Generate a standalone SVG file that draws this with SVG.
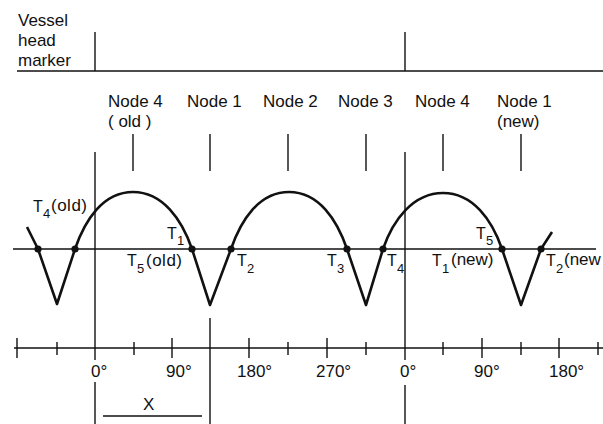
<svg xmlns="http://www.w3.org/2000/svg" width="603" height="424" viewBox="0 0 603 424">
<style>
text{font-family:"Liberation Sans",Arial,sans-serif;font-size:17px;fill:#111}
.t{font-size:16px}
.sub{font-size:13px}
.ln{stroke:#111;stroke-width:1.4;fill:none}
.crv{stroke:#111;stroke-width:2.6;fill:none;stroke-linejoin:round}
.dot{fill:#111}
</style>
<rect width="603" height="424" fill="#fff"/>
<g id="vessel-marker">
<text x="18" y="26">Vessel</text>
<text x="18" y="46">head</text>
<text x="18" y="66">marker</text>
<line class="ln" x1="17" y1="71" x2="603" y2="71"/>
<line class="ln" x1="95" y1="32" x2="95" y2="71"/>
<line class="ln" x1="405" y1="32" x2="405" y2="71"/>
</g>
<g id="node4-old"><text x="108" y="107">Node 4</text><text x="108" y="127">( old )</text><line class="ln" x1="133" y1="134" x2="133" y2="171"/></g>
<g id="node1"><text x="187" y="107">Node 1</text><line class="ln" x1="210" y1="134" x2="210" y2="171"/></g>
<g id="node2"><text x="263" y="107">Node 2</text><line class="ln" x1="288" y1="134" x2="288" y2="171"/></g>
<g id="node3"><text x="338" y="107">Node 3</text><line class="ln" x1="366" y1="134" x2="366" y2="171"/></g>
<g id="node4"><text x="415" y="107">Node 4</text><line class="ln" x1="443" y1="134" x2="443" y2="171"/></g>
<g id="node1-new"><text x="497" y="107">Node 1</text><text x="497" y="127">(new)</text><line class="ln" x1="521" y1="134" x2="521" y2="171"/></g>
<g id="connectors">
<line class="ln" x1="95" y1="152" x2="95" y2="360"/>
<line class="ln" x1="95" y1="382" x2="95" y2="424"/>
<line class="ln" x1="405" y1="152" x2="405" y2="360"/>
<line class="ln" x1="405" y1="385" x2="405" y2="424"/>
<line class="ln" x1="210" y1="318" x2="210" y2="424"/>
<line class="ln" x1="13" y1="249" x2="596" y2="249"/>
<path class="crv" d="M27,227 L38,249 L57,304 L75,249 C85,220 103,192 133,192 C163,192 182,220 192,249 L210,305 L231,249 C241,220 259,192 289,192 C319,192 337,220 347,249 L366,305 L383,249 C393,220 413,193 443,193 C473,193 492,220 502,249 L521,305 L541,249 L552,232"/>
<g class="dot">
<circle cx="38" cy="249" r="3.6"/><circle cx="75" cy="249" r="3.6"/>
<circle cx="192" cy="249" r="3.6"/><circle cx="231" cy="249" r="3.6"/>
<circle cx="347" cy="249" r="3.6"/><circle cx="383" cy="249" r="3.6"/>
<circle cx="502" cy="249" r="3.6"/><circle cx="541" cy="249" r="3.6"/>
</g>
<line class="ln" x1="14" y1="348" x2="603" y2="348"/>
<path class="ln" d="M17,338V358 M57,342V355 M134,342V355 M172,338V358 M249,338V358 M288,342V355 M327,338V358 M366,342V355 M443,342V355 M482,338V358 M521,342V355 M559,338V358 M598,342V355"/>
<line class="ln" x1="103" y1="416" x2="202" y2="416"/>
</g>
<g id="labels">
<text class="t" x="33" y="212">T</text><text class="sub" x="43" y="218">4</text><text x="51" y="211" letter-spacing="0.5">(old)</text>
<text class="t" x="167" y="239">T</text><text class="sub" x="177" y="245">1</text>
<text class="t" x="127" y="266">T</text><text class="sub" x="137" y="273">5</text><text x="146" y="266" letter-spacing="0.5">(old)</text>
<text class="t" x="237" y="266">T</text><text class="sub" x="247" y="273">2</text>
<text class="t" x="327" y="266">T</text><text class="sub" x="337" y="273">3</text>
<text class="t" x="387" y="266">T</text><text class="sub" x="397" y="273">4</text>
<text class="t" x="432" y="266">T</text><text class="sub" x="442" y="273">1</text><text x="451" y="265">(new)</text>
<text class="t" x="476" y="239">T</text><text class="sub" x="486" y="245">5</text>
<text class="t" x="546" y="266">T</text><text class="sub" x="556" y="273">2</text><text x="564" y="265">(new</text>
<text x="91" y="377">0°</text>
<text x="166" y="377">90°</text>
<text x="237" y="377">180°</text>
<text x="316" y="377">270°</text>
<text x="400" y="377">0°</text>
<text x="474" y="377">90°</text>
<text x="549" y="377">180°</text>
<text x="143" y="410">X</text>
</g>
</svg>
